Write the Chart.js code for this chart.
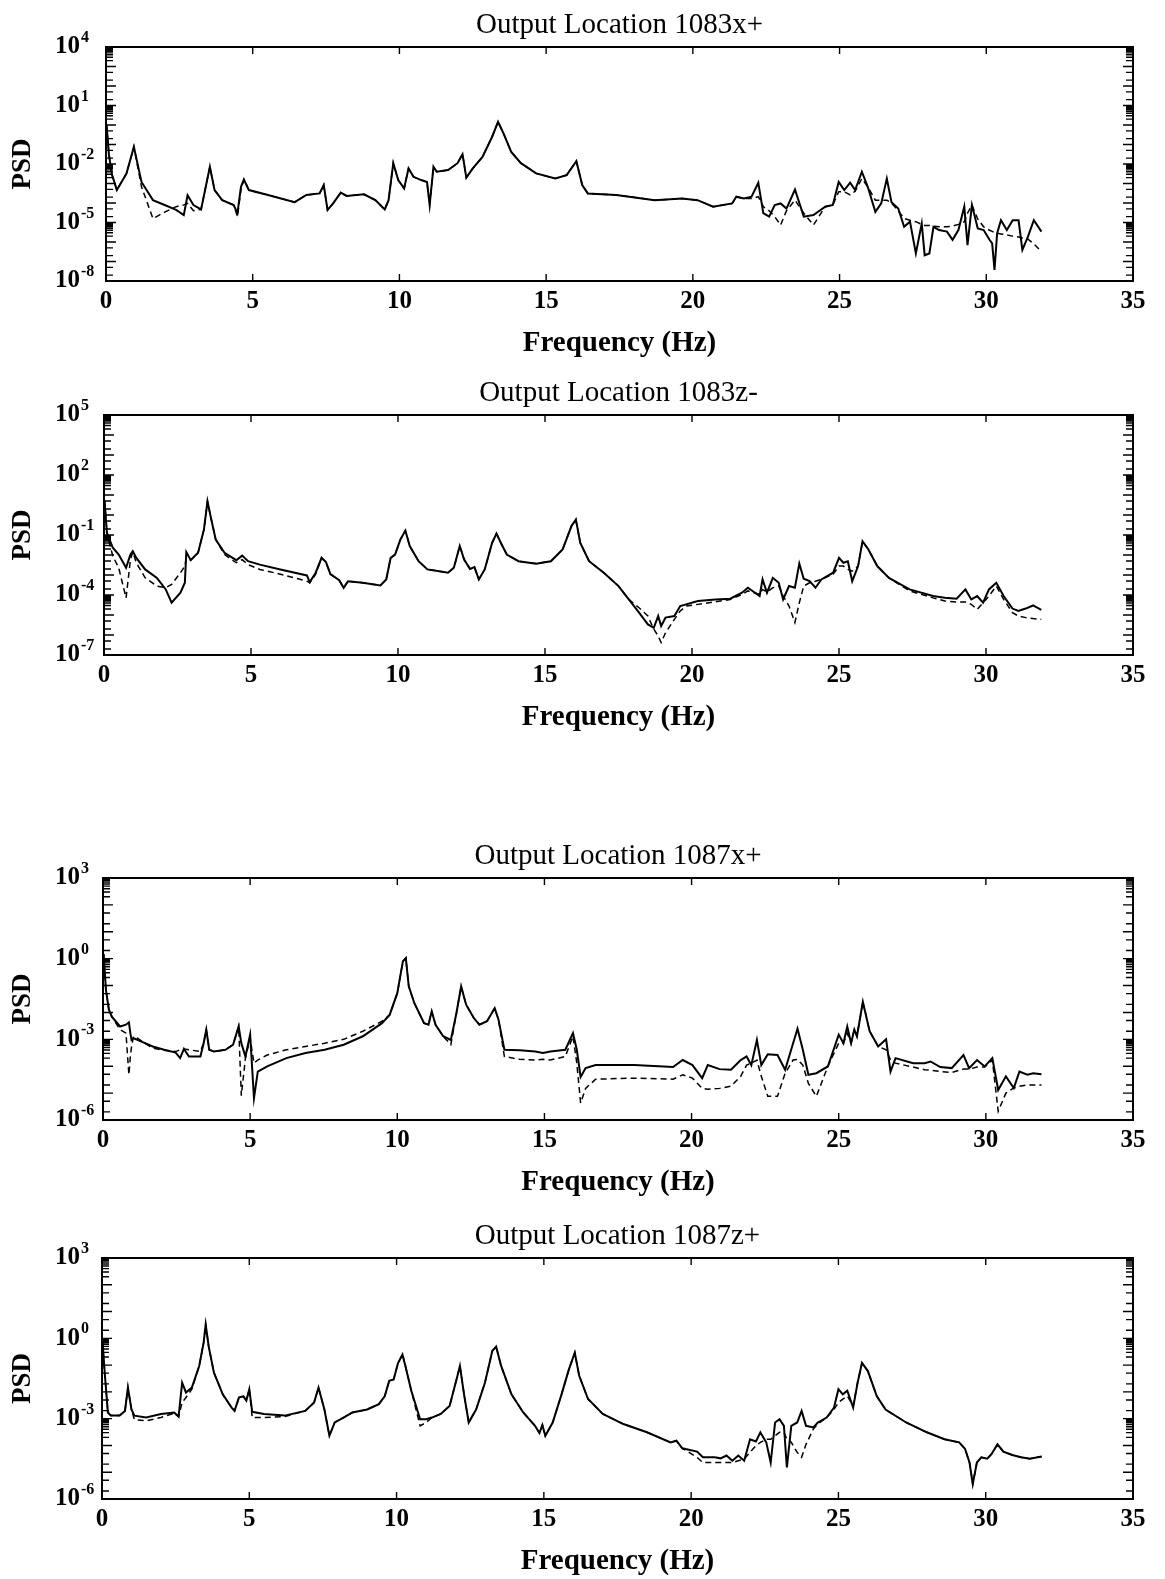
<!DOCTYPE html>
<html>
<head>
<meta charset="utf-8">
<script src="https://cdn.jsdelivr.net/npm/chart.js@4.4.1/dist/chart.umd.min.js"></script>
<style>
  html, body { margin: 0; padding: 0; background: #fff; }
  #page { position: relative; width: 1165px; height: 1579px; overflow: hidden; }
  #page canvas { position: absolute; left: 0; }
</style>
</head>
<body>
<div id="page">
  <canvas id="c1"></canvas>
  <canvas id="c2"></canvas>
  <canvas id="c3"></canvas>
  <canvas id="c4"></canvas>
</div>
<script>
// ---- data (frequency in Hz, PSD values) ----
const xTicksHz = [0, 5, 10, 15, 20, 25, 30, 35];

// Output Location 1083x+
const freq1083x = [
  0.02, 0.1, 0.2, 0.37, 0.7, 0.95, 1.21, 1.6, 2.0, 2.39,
  2.65, 2.78, 2.98, 3.24, 3.54, 3.7, 3.96, 4.35, 4.48, 4.6,
  4.7, 4.87, 5.52, 6.43, 6.83, 7.28, 7.42, 7.55, 7.74, 8.0,
  8.2, 8.79, 9.18, 9.5, 9.63, 9.79, 9.96, 10.16, 10.31, 10.48,
  10.74, 10.94, 11.03, 11.16, 11.27, 11.66, 11.98, 12.15, 12.28, 12.5,
  12.83, 13.16, 13.36, 13.55, 13.81, 14.14, 14.66, 15.31, 15.7, 16.03,
  16.23, 16.42, 17.39, 18.7, 19.63, 20.16, 20.69, 21.34, 21.48, 21.74,
  22.0, 22.23, 22.4, 22.6, 22.79, 22.99, 23.19, 23.48, 23.78, 24.11,
  24.51, 24.77, 24.97, 25.16, 25.36, 25.53, 25.76, 25.96, 26.22, 26.42,
  26.61, 26.77, 27.0, 27.2, 27.4, 27.6, 27.8, 27.9, 28.06, 28.2,
  28.39, 28.66, 28.85, 29.05, 29.25, 29.36, 29.51, 29.71, 29.91, 30.11,
  30.2, 30.28, 30.37, 30.5, 30.7, 30.9, 31.1, 31.23, 31.42, 31.62,
  31.88
];
const solid1083x = [
  1.0, 3e-2, 3e-3, 4.6e-4, 3.3e-3, 7.6e-2, 1.2e-3, 1.4e-4, 7.9e-5, 4.4e-5,
  2.4e-5, 2.5e-4, 7.9e-5, 4.7e-5, 7.2e-3, 4.6e-4, 1.4e-4, 7.9e-5, 3.0e-5, 6.8e-4,
  1.6e-3, 4.6e-4, 2.6e-4, 1.1e-4, 2.6e-4, 3.1e-4, 8.3e-4, 4.4e-5, 9.5e-5, 3.4e-4,
  2.3e-4, 2.8e-4, 1.4e-4, 4.7e-5, 1.4e-4, 1.1e-2, 1.5e-3, 5.6e-4, 5.9e-3, 2.2e-3,
  1.5e-3, 1.2e-3, 7.9e-5, 7.2e-3, 4.0e-3, 4.9e-3, 1.1e-2, 3.2e-2, 2.0e-3, 5.9e-3,
  2.3e-2, 0.25, 1.45, 0.36, 4.2e-2, 1.1e-2, 3.3e-3, 1.8e-3, 2.7e-3, 1.4e-2,
  8.3e-4, 3.1e-4, 2.6e-4, 1.4e-4, 1.7e-4, 1.4e-4, 6.5e-5, 9.5e-5, 2.1e-4, 1.7e-4,
  2.1e-4, 1.1e-3, 3.0e-5, 2.0e-5, 7.9e-5, 9.5e-5, 5.2e-5, 4.9e-4, 2.0e-5, 2.4e-5,
  6.5e-5, 7.9e-5, 1.2e-3, 4.6e-4, 1.1e-3, 4.6e-4, 4.0e-3, 6.8e-4, 3.5e-5, 9.5e-5,
  1.8e-3, 1.1e-4, 5.2e-5, 6.0e-6, 1.1e-5, 2.6e-7, 8.9e-6, 2.1e-7, 2.6e-7, 6.0e-6,
  4.1e-6, 3.4e-6, 1.3e-6, 4.1e-6, 6.5e-5, 6.9e-7, 7.9e-5, 5.0e-6, 4.1e-6, 1.3e-6,
  8.5e-7, 3.7e-8, 2.8e-6, 1.3e-5, 4.1e-6, 1.3e-5, 1.3e-5, 3.9e-7, 1.9e-6, 1.3e-5,
  3.4e-6
];
const dashed1083x = [
  1.0, 3e-2, 3e-3, 4.6e-4, 3.3e-3, 7.6e-2, 6.8e-4, 1.6e-5, 3.4e-5, 6.5e-5,
  8.0e-5, 9.5e-5, 4.0e-5, 4.7e-5, 7.2e-3, 4.6e-4, 1.4e-4, 7.9e-5, 2.0e-5, 5.0e-4,
  1.6e-3, 4.6e-4, 2.6e-4, 1.1e-4, 2.6e-4, 3.1e-4, 8.3e-4, 4.4e-5, 9.5e-5, 3.4e-4,
  2.3e-4, 2.8e-4, 1.4e-4, 4.7e-5, 1.4e-4, 1.1e-2, 1.5e-3, 5.6e-4, 5.9e-3, 2.2e-3,
  1.5e-3, 1.2e-3, 7.9e-5, 7.2e-3, 4.0e-3, 4.9e-3, 1.1e-2, 3.2e-2, 2.0e-3, 5.9e-3,
  2.3e-2, 0.25, 1.45, 0.36, 4.2e-2, 1.1e-2, 3.3e-3, 1.8e-3, 2.7e-3, 1.4e-2,
  8.3e-4, 3.1e-4, 2.6e-4, 1.4e-4, 1.7e-4, 1.4e-4, 6.5e-5, 9.5e-5, 2.1e-4, 1.7e-4,
  1.7e-4, 2.1e-4, 6.5e-5, 4.0e-5, 2.0e-5, 7.4e-6, 4.0e-5, 1.4e-4, 3.0e-5, 7.4e-6,
  6.5e-5, 7.9e-5, 3.8e-4, 3.8e-4, 2.6e-4, 4.0e-4, 1.8e-3, 6.8e-4, 1.4e-4, 1.4e-4,
  1.4e-4, 1.0e-4, 4.0e-5, 1.6e-5, 1.3e-5, 1.1e-5, 8.0e-6, 7.0e-6, 7.0e-6, 6.5e-6,
  6.0e-6, 6.0e-6, 6.5e-6, 8.0e-6, 1.1e-5, 3.0e-5, 7.9e-5, 1.5e-5, 6.0e-6, 4.0e-6,
  3.5e-6, 3.0e-6, 2.8e-6, 2.6e-6, 2.3e-6, 2.0e-6, 1.8e-6, 1.6e-6, 1.4e-6, 8.0e-7,
  3.2e-7
];
const yTicks1083x = [1e-8, 1e-5, 1e-2, 1e1, 1e4];
const yExp1083x = ['-8', '-5', '-2', '1', '4'];

// Output Location 1083z-
const freq1083z = [
  0.02, 0.1, 0.3, 0.5, 0.75, 0.9, 0.98, 1.1, 1.4, 1.8,
  2.1, 2.3, 2.6, 2.75, 2.8, 2.95, 3.2, 3.4, 3.52, 3.65,
  3.8, 4.1, 4.5, 4.7, 4.9, 5.3, 6.0, 6.9, 7.0, 7.2,
  7.4, 7.55, 7.7, 8.0, 8.15, 8.3, 8.8, 9.4, 9.6, 9.75,
  9.9, 10.08, 10.25, 10.4, 10.7, 11.0, 11.4, 11.7, 11.9, 12.1,
  12.25, 12.45, 12.6, 12.75, 12.95, 13.2, 13.35, 13.5, 13.7, 14.1,
  14.7, 15.2, 15.6, 15.9, 16.05, 16.2, 16.5, 17.0, 17.5, 17.85,
  18.2, 18.5, 18.7, 18.85, 18.95, 19.1, 19.4, 19.6, 19.8, 20.2,
  20.8, 21.3, 21.7, 21.9, 22.3, 22.4, 22.55, 22.75, 22.95, 23.1,
  23.3, 23.5, 23.65, 23.8, 24.0, 24.2, 24.4, 24.8, 25.0, 25.15,
  25.3, 25.45, 25.65, 25.8, 26.0, 26.3, 26.7, 27.4, 28.2, 28.6,
  29.0, 29.3, 29.5, 29.7, 29.9, 30.1, 30.35, 30.6, 30.9, 31.1,
  31.35, 31.6, 31.88
];
const solid1083z = [
  5, 0.126, 2.3e-2, 1.05e-2, 2.3e-3, 1.05e-2, 1.55e-2, 7.2e-3, 1.9e-3, 7.2e-4,
  1.9e-4, 4.1e-5, 1.3e-4, 4.1e-4, 1.4e-2, 5.5e-3, 1.3e-2, 0.19, 4.8, 0.59,
  5.9e-2, 1.3e-2, 5.5e-3, 9.3e-3, 4.9e-3, 3.3e-3, 1.9e-3, 9.5e-4, 4.4e-4, 1.3e-3,
  7.2e-3, 4.4e-3, 1.1e-3, 5.5e-4, 2.3e-4, 4.9e-4, 4.1e-4, 3.0e-4, 6.0e-4, 7.2e-3,
  1.05e-2, 5.9e-2, 0.166, 2.8e-2, 4.9e-3, 1.9e-3, 1.55e-3, 1.3e-3, 2.3e-3, 2.8e-2,
  5.9e-3, 2.0e-3, 2.5e-3, 6.0e-4, 1.9e-3, 4.0e-2, 0.117, 4.0e-2, 1.05e-2, 4.9e-3,
  3.7e-3, 4.9e-3, 1.9e-2, 0.28, 0.59, 4.0e-2, 4.9e-3, 1.3e-3, 2.8e-4, 6.0e-5,
  1.3e-5, 3.4e-6, 2.3e-6, 8.9e-6, 2.8e-6, 7.4e-6, 8.9e-6, 2.8e-5, 3.4e-5, 5.0e-5,
  6.0e-5, 6.5e-5, 1.3e-4, 2.3e-4, 8.9e-5, 6.0e-4, 1.3e-4, 7.2e-4, 4.1e-4, 6.0e-5,
  2.8e-4, 2.3e-4, 3.7e-3, 6.5e-4, 4.9e-4, 2.3e-4, 6.0e-4, 1.3e-3, 7.2e-3, 4.1e-3,
  4.9e-3, 4.9e-4, 2.8e-3, 4.9e-2, 1.9e-2, 2.8e-3, 7.2e-4, 1.9e-4, 8.9e-5, 7.2e-5,
  6.5e-5, 1.9e-4, 6.0e-5, 8.9e-5, 4.1e-5, 1.9e-4, 4.1e-4, 8.9e-5, 2.1e-5, 1.6e-5,
  2.1e-5, 3.0e-5, 1.8e-5
];
const dashed1083z = [
  5, 0.126, 8.7e-3, 2.3e-3, 7.2e-5, 5.9e-3, 1.4e-2, 4.1e-3, 7.2e-4, 2.8e-4,
  2.3e-4, 3.4e-4, 1.3e-3, 2.8e-3, 7.2e-3, 5.5e-3, 1.3e-2, 0.19, 4.8, 0.59,
  5.9e-2, 1.05e-2, 4.1e-3, 5.9e-3, 3.3e-3, 1.9e-3, 1.1e-3, 4.9e-4, 4.1e-4, 1.1e-3,
  7.2e-3, 4.4e-3, 1.1e-3, 5.5e-4, 2.3e-4, 4.9e-4, 4.1e-4, 3.0e-4, 6.0e-4, 7.2e-3,
  1.05e-2, 5.9e-2, 0.166, 2.8e-2, 4.9e-3, 1.9e-3, 1.55e-3, 1.3e-3, 2.3e-3, 2.8e-2,
  5.9e-3, 2.0e-3, 2.5e-3, 6.0e-4, 1.9e-3, 4.0e-2, 0.117, 4.0e-2, 1.05e-2, 4.9e-3,
  3.7e-3, 4.9e-3, 1.9e-2, 0.28, 0.59, 4.0e-2, 4.9e-3, 1.3e-3, 2.8e-4, 6.0e-5,
  2.3e-5, 8.9e-6, 1.95e-6, 8.9e-7, 4.2e-7, 1.3e-6, 6.0e-6, 1.6e-5, 2.8e-5, 3.4e-5,
  4.6e-5, 6.0e-5, 1.07e-4, 1.6e-4, 1.07e-4, 1.9e-4, 1.4e-4, 2.3e-4, 2.8e-4, 8.9e-5,
  2.8e-5, 4.2e-6, 4.1e-5, 2.8e-4, 4.1e-4, 4.9e-4, 6.0e-4, 1.1e-3, 2.8e-3, 2.8e-3,
  1.9e-3, 1.55e-3, 2.8e-3, 4.9e-2, 1.9e-2, 2.8e-3, 7.2e-4, 1.6e-4, 7.2e-5, 5.0e-5,
  4.5e-5, 4.5e-5, 3.4e-5, 1.9e-5, 4.1e-5, 8.9e-5, 2.8e-4, 6.0e-5, 1.3e-5, 8.9e-6,
  7.4e-6, 6.6e-6, 6.0e-6
];
const yTicks1083z = [1e-7, 1e-4, 1e-1, 1e2, 1e5];
const yExp1083z = ['-7', '-4', '-1', '2', '5'];

// Output Location 1087x+
const freq1087x = [
  0.02, 0.1, 0.2, 0.3, 0.58, 0.78, 0.88, 0.93, 0.97, 1.04,
  1.17, 1.69, 2.08, 2.47, 2.62, 2.75, 2.92, 3.31, 3.42, 3.51,
  3.61, 3.77, 4.16, 4.42, 4.61, 4.7, 4.84, 5.0, 5.13, 5.26,
  5.58, 6.23, 6.88, 7.53, 8.18, 8.83, 9.48, 9.74, 10.0, 10.19,
  10.29, 10.39, 10.58, 10.91, 11.06, 11.17, 11.3, 11.56, 11.82, 12.01,
  12.17, 12.34, 12.6, 12.79, 13.05, 13.31, 13.44, 13.64, 14.16, 14.69,
  14.95, 15.2, 15.71, 15.97, 16.1, 16.23, 16.4, 16.74, 18.05, 19.37,
  19.7, 20.03, 20.36, 20.55, 20.95, 21.34, 21.67, 21.87, 22.03, 22.22,
  22.37, 22.59, 22.92, 23.18, 23.45, 23.6, 23.78, 23.97, 24.24, 24.63,
  25.0, 25.16, 25.29, 25.42, 25.53, 25.62, 25.82, 26.05, 26.34, 26.61,
  26.76, 26.93, 27.53, 27.92, 28.12, 28.45, 28.84, 29.24, 29.43, 29.7,
  29.96, 30.22, 30.42, 30.68, 30.95, 31.14, 31.41, 31.61, 31.89
];
const solid1087x = [
  1.5, 6.9e-2, 1.26e-2, 7.0e-3, 3.0e-3, 3.5e-3, 4.3e-3, 1.7e-3, 9.5e-4, 1.1e-3,
  9.5e-4, 5.4e-4, 4.1e-4, 3.2e-4, 2.0e-4, 4.4e-4, 2.3e-4, 2.3e-4, 7.2e-4, 2.3e-3,
  4.1e-4, 3.5e-4, 4.1e-4, 6.3e-4, 3.0e-3, 7.2e-4, 2.3e-4, 1.5e-3, 6.5e-6, 6.3e-5,
  9.8e-5, 2.0e-4, 3.1e-4, 4.1e-4, 6.3e-4, 1.3e-3, 4.0e-3, 8.1e-3, 5.2e-2, 0.79,
  1.05, 9.3e-2, 2.2e-2, 4.0e-3, 3.5e-3, 1.1e-2, 3.5e-3, 1.3e-3, 9.5e-4, 9.5e-3,
  9.3e-2, 1.95e-2, 6.2e-3, 3.5e-3, 4.7e-3, 1.45e-2, 5.4e-3, 4.1e-4, 3.9e-4, 3.5e-4,
  3.1e-4, 3.5e-4, 4.1e-4, 1.7e-3, 4.1e-4, 4.0e-5, 8.5e-5, 1.1e-4, 1.1e-4, 9.3e-5,
  1.7e-4, 1.1e-4, 3.6e-5, 1.1e-4, 7.8e-5, 7.4e-5, 1.7e-4, 2.3e-4, 1.1e-4, 9.5e-4,
  1.1e-4, 2.8e-4, 2.6e-4, 7.4e-5, 7.2e-4, 2.5e-3, 4.1e-4, 4.8e-5, 5.5e-5, 9.8e-5,
  1.5e-3, 7.2e-4, 3.0e-3, 7.2e-4, 2.3e-3, 1.3e-3, 2.5e-2, 2.0e-3, 5.4e-4, 1.0e-3,
  6.3e-5, 2.0e-4, 1.3e-4, 1.3e-4, 1.5e-4, 9.3e-5, 8.5e-5, 2.6e-4, 8.5e-5, 1.7e-4,
  9.8e-5, 2.0e-4, 1.3e-5, 4.2e-5, 1.55e-5, 6.3e-5, 4.8e-5, 5.5e-5, 5.0e-5
];
const dashed1087x = [
  1.5, 6.9e-2, 1.26e-2, 7.0e-3, 2.3e-3, 1.7e-3, 4.8e-5, 2.3e-4, 5.4e-4, 1.3e-3,
  1.1e-3, 4.7e-4, 3.9e-4, 3.5e-4, 4.1e-4, 4.4e-4, 4.1e-4, 3.5e-4, 7.2e-4, 2.3e-3,
  4.1e-4, 3.5e-4, 4.1e-4, 6.3e-4, 3.0e-3, 8.0e-6, 2.0e-4, 1.1e-3, 1.3e-4, 1.7e-4,
  2.6e-4, 4.1e-4, 5.4e-4, 7.2e-4, 1.0e-3, 2.0e-3, 4.7e-3, 8.1e-3, 5.2e-2, 0.79,
  1.05, 9.3e-2, 2.2e-2, 4.0e-3, 3.5e-3, 1.1e-2, 3.5e-3, 1.3e-3, 6.3e-4, 9.5e-3,
  9.3e-2, 1.95e-2, 6.2e-3, 3.5e-3, 4.7e-3, 1.45e-2, 5.4e-3, 2.3e-4, 1.8e-4, 1.7e-4,
  1.8e-4, 1.7e-4, 2.3e-4, 1.3e-3, 1.3e-4, 4.3e-6, 1.5e-5, 3.3e-5, 3.6e-5, 3.3e-5,
  4.8e-5, 3.6e-5, 1.5e-5, 1.4e-5, 1.5e-5, 1.8e-5, 4.2e-5, 1.1e-4, 1.3e-4, 1.7e-4,
  4.2e-5, 7.6e-6, 7.6e-6, 5.5e-5, 1.7e-4, 1.8e-4, 1.1e-4, 2.3e-5, 7.6e-6, 9.8e-5,
  7.2e-4, 7.2e-4, 1.7e-3, 7.2e-4, 2.3e-3, 1.3e-3, 2.5e-2, 2.0e-3, 5.4e-4, 4.1e-4,
  1.7e-4, 1.3e-4, 9.3e-5, 7.4e-5, 7.2e-5, 6.3e-5, 5.9e-5, 7.8e-5, 7.8e-5, 9.3e-5,
  9.3e-5, 1.7e-4, 2.1e-6, 1.0e-5, 1.55e-5, 1.8e-5, 2.0e-5, 2.0e-5, 2.0e-5
];
const yTicks1087x = [1e-6, 1e-3, 1e0, 1e3];
const yExp1087x = ['-6', '-3', '0', '3'];

// Output Location 1087z+
const freq1087z = [
  0.02, 0.1, 0.2, 0.3, 0.6, 0.78, 0.88, 1.0, 1.1, 1.5,
  2.0, 2.45, 2.6, 2.72, 2.85, 3.05, 3.3, 3.45, 3.52, 3.62,
  3.8, 4.1, 4.4, 4.5, 4.65, 4.8, 4.9, 5.0, 5.1, 5.5,
  6.2, 6.9, 7.2, 7.35, 7.55, 7.72, 7.9, 8.2, 8.5, 9.0,
  9.4, 9.6, 9.75, 9.9, 10.05, 10.2, 10.3, 10.5, 10.8, 11.0,
  11.2, 11.5, 11.8, 12.05, 12.15, 12.3, 12.45, 12.7, 13.0, 13.25,
  13.38, 13.55, 13.9, 14.3, 14.7, 14.85, 14.95, 15.05, 15.3, 15.6,
  15.85, 16.05, 16.2, 16.5, 17.0, 17.7, 18.5, 19.3, 19.5, 19.7,
  20.2, 20.4, 20.8, 21.0, 21.2, 21.4, 21.6, 21.8, 22.0, 22.2,
  22.35, 22.55, 22.7, 22.85, 23.0, 23.15, 23.25, 23.4, 23.6, 23.75,
  23.9, 24.15, 24.3, 24.6, 24.85, 25.0, 25.15, 25.3, 25.5, 25.65,
  25.8, 26.0, 26.3, 26.6, 27.3, 28.0, 28.6, 29.1, 29.3, 29.45,
  29.56, 29.7, 29.85, 30.05, 30.2, 30.4, 30.6, 30.9, 31.2, 31.5,
  31.9
];
const solid1087z = [
  0.69, 4.0e-2, 1.7e-3, 1.3e-3, 1.3e-3, 1.95e-3, 1.45e-2, 2.2e-3, 1.3e-3, 1.1e-3,
  1.5e-3, 1.7e-3, 1.2e-3, 2.2e-2, 9.5e-3, 1.45e-2, 9.3e-2, 0.69, 3.3, 0.51,
  5.2e-2, 8.1e-3, 2.6e-3, 1.95e-3, 6.2e-3, 6.8e-3, 4.7e-3, 1.26e-2, 1.8e-3, 1.5e-3,
  1.3e-3, 1.95e-3, 4.0e-3, 1.45e-2, 2.2e-3, 2.3e-4, 7.2e-4, 1.1e-3, 1.7e-3, 2.2e-3,
  3.5e-3, 7.0e-3, 2.6e-2, 2.9e-2, 0.12, 0.25, 9.3e-2, 1.1e-2, 9.5e-4, 9.5e-4,
  1.1e-3, 1.5e-3, 3.0e-3, 3.4e-2, 9.3e-2, 7.0e-3, 7.2e-4, 2.2e-3, 2.2e-2, 0.34,
  0.49, 9.3e-2, 8.1e-3, 1.7e-3, 5.4e-4, 2.9e-4, 5.8e-4, 2.3e-4, 7.2e-4, 8.1e-3,
  6.9e-2, 0.29, 4.0e-2, 5.4e-3, 1.5e-3, 6.3e-4, 3.1e-4, 1.3e-4, 1.5e-4, 7.8e-5,
  5.9e-5, 3.6e-5, 3.6e-5, 3.3e-5, 4.2e-5, 2.7e-5, 4.2e-5, 2.7e-5, 1.7e-4, 1.4e-4,
  3.1e-4, 1.3e-4, 2.3e-5, 7.2e-4, 9.5e-4, 5.4e-4, 1.5e-5, 5.4e-4, 7.2e-4, 1.95e-3,
  5.4e-4, 4.7e-4, 7.2e-4, 1.1e-3, 2.6e-3, 1.26e-2, 8.1e-3, 1.1e-2, 2.6e-3, 2.2e-2,
  0.12, 6.0e-2, 7.0e-3, 2.2e-3, 7.2e-4, 3.1e-4, 1.7e-4, 1.3e-4, 7.4e-5, 2.3e-5,
  3.6e-6, 2.3e-5, 3.6e-5, 3.2e-5, 4.8e-5, 1.1e-4, 5.9e-5, 4.4e-5, 3.6e-5, 3.2e-5,
  3.9e-5
];
const dashed1087z = [
  0.69, 4.0e-2, 1.7e-3, 1.3e-3, 1.3e-3, 1.95e-3, 1.45e-2, 2.2e-3, 9.1e-4, 8.3e-4,
  1.1e-3, 1.6e-3, 1.2e-3, 4.0e-3, 6.2e-3, 1.26e-2, 9.3e-2, 0.69, 3.3, 0.51,
  5.2e-2, 8.1e-3, 2.6e-3, 1.95e-3, 6.2e-3, 6.8e-3, 4.7e-3, 1.26e-2, 1.1e-3, 1.1e-3,
  1.2e-3, 1.95e-3, 4.0e-3, 1.45e-2, 2.2e-3, 2.3e-4, 7.2e-4, 1.1e-3, 1.7e-3, 2.2e-3,
  3.5e-3, 7.0e-3, 2.6e-2, 2.9e-2, 0.12, 0.25, 9.3e-2, 1.1e-2, 5.4e-4, 7.2e-4,
  1.1e-3, 1.5e-3, 3.0e-3, 3.4e-2, 9.3e-2, 7.0e-3, 7.2e-4, 2.2e-3, 2.2e-2, 0.34,
  0.49, 9.3e-2, 8.1e-3, 1.7e-3, 5.4e-4, 2.9e-4, 5.8e-4, 2.3e-4, 7.2e-4, 8.1e-3,
  6.9e-2, 0.29, 4.0e-2, 5.4e-3, 1.5e-3, 6.3e-4, 3.1e-4, 1.3e-4, 1.5e-4, 7.8e-5,
  3.6e-5, 2.3e-5, 2.3e-5, 2.3e-5, 2.3e-5, 2.3e-5, 2.7e-5, 3.1e-5, 5.5e-5, 9.8e-5,
  1.3e-4, 1.7e-4, 1.7e-4, 2.3e-4, 3.1e-4, 3.1e-4, 1.7e-4, 1.3e-4, 5.5e-5, 3.6e-5,
  1.1e-4, 4.1e-4, 6.3e-4, 1.1e-3, 2.2e-3, 4.0e-3, 5.4e-3, 7.0e-3, 3.0e-3, 2.2e-2,
  0.12, 6.0e-2, 7.0e-3, 2.2e-3, 7.2e-4, 3.1e-4, 1.7e-4, 1.3e-4, 7.4e-5, 2.3e-5,
  3.6e-6, 2.3e-5, 3.6e-5, 3.2e-5, 4.8e-5, 1.1e-4, 5.9e-5, 4.4e-5, 3.6e-5, 3.2e-5,
  3.9e-5
];
const yTicks1087z = [1e-6, 1e-3, 1e0, 1e3];
const yExp1087z = ['-6', '-3', '0', '3'];

// ---- layout ----
const SERIF = "'Liberation Serif', 'Times New Roman', 'DejaVu Serif', serif";
const TITLE_H = 42;   // title line + padding above the plot box
const XAXIS_H = 80;   // tick labels + "Frequency (Hz)" below the plot box
const LABEL_X = 55;   // left edge of the y tick labels

const panels = [
  { canvas: 'c1', title: 'Output Location 1083x+', top: 47, bottom: 281, left: 106, right: 1133,
    freq: freq1083x, solid: solid1083x, dashed: dashed1083x, yTicks: yTicks1083x, yExp: yExp1083x },
  { canvas: 'c2', title: 'Output Location 1083z-', top: 415, bottom: 655, left: 104, right: 1133,
    freq: freq1083z, solid: solid1083z, dashed: dashed1083z, yTicks: yTicks1083z, yExp: yExp1083z },
  { canvas: 'c3', title: 'Output Location 1087x+', top: 878, bottom: 1120, left: 103, right: 1133,
    freq: freq1087x, solid: solid1087x, dashed: dashed1087x, yTicks: yTicks1087x, yExp: yExp1087x },
  { canvas: 'c4', title: 'Output Location 1087z+', top: 1258, bottom: 1499, left: 102, right: 1133,
    freq: freq1087z, solid: solid1087z, dashed: dashed1087z, yTicks: yTicks1087z, yExp: yExp1087z }
];

// box, inward ticks, "10^n" labels and the PSD label, placed through the chart's scales
const frameTicks = {
  id: 'frameTicks',
  afterDatasetsDraw(chart) {
    const { ctx, chartArea: a, scales: { x, y } } = chart;
    const p = chart.options.plugins.frameTicks;
    ctx.save();
    ctx.strokeStyle = '#000';
    ctx.lineWidth = 2;
    ctx.strokeRect(a.left, a.top, a.right - a.left, a.bottom - a.top);

    ctx.lineWidth = 1.4;
    ctx.beginPath();
    xTicksHz.forEach(v => {
      if (v <= x.min || v >= x.max) return;
      const px = x.getPixelForValue(v);
      ctx.moveTo(px, a.bottom); ctx.lineTo(px, a.bottom - 7);
      ctx.moveTo(px, a.top); ctx.lineTo(px, a.top + 7);
    });
    const yTick = (py, len) => {
      ctx.moveTo(a.left, py); ctx.lineTo(a.left + len, py);
      ctx.moveTo(a.right, py); ctx.lineTo(a.right - len, py);
    };
    const lo = Math.round(Math.log10(y.min));
    const hi = Math.round(Math.log10(y.max));
    for (let e = lo; e <= hi; e++) {
      yTick(y.getPixelForValue(Math.pow(10, e)), 10);
      if (e === hi) continue;
      const comb = (e + 1 - lo) % 3 === 0;
      for (let k = 2; k <= 9; k++) {
        if (!comb && k !== 2 && k !== 5) continue;
        yTick(y.getPixelForValue(k * Math.pow(10, e)), 7);
      }
    }
    ctx.stroke();

    // y tick labels: "10" with a raised exponent
    ctx.fillStyle = '#000';
    ctx.textAlign = 'left';
    ctx.textBaseline = 'middle';
    p.ticks.forEach((v, i) => {
      const py = y.getPixelForValue(v);
      ctx.font = 'bold 25px ' + SERIF;
      ctx.fillText('10', LABEL_X, py);
      const w = ctx.measureText('10').width;
      ctx.font = 'bold 16px ' + SERIF;
      ctx.fillText(p.exps[i], LABEL_X + w + 1, py - 9);
    });

    ctx.font = 'bold 27px ' + SERIF;
    ctx.textAlign = 'center';
    ctx.translate(23, (a.top + a.bottom) / 2);
    ctx.rotate(-Math.PI / 2);
    ctx.fillText('PSD', 0, 0);
    ctx.restore();
  }
};

function makePanel(p) {
  const canvas = document.getElementById(p.canvas);
  canvas.width = 1165;
  canvas.height = TITLE_H + (p.bottom - p.top) + XAXIS_H;
  canvas.style.top = (p.top - TITLE_H) + 'px';

  new Chart(canvas, {
    type: 'line',
    data: {
      datasets: [
        {
          data: p.freq.map((f, i) => ({ x: f, y: p.dashed[i] })),
          borderColor: '#000', borderWidth: 1.5, borderDash: [6, 4],
          pointRadius: 0, tension: 0
        },
        {
          data: p.freq.map((f, i) => ({ x: f, y: p.solid[i] })),
          borderColor: '#000', borderWidth: 2,
          pointRadius: 0, tension: 0
        }
      ]
    },
    options: {
      responsive: false,
      animation: false,
      events: [],
      layout: { padding: { left: LABEL_X, right: 1165 - p.right, top: 0, bottom: 0 } },
      plugins: {
        legend: { display: false },
        tooltip: { enabled: false },
        frameTicks: { ticks: p.yTicks, exps: p.yExp },
        title: {
          display: true,
          text: p.title,
          fullSize: false,
          color: '#000',
          font: { family: SERIF, size: 29, weight: 'normal', lineHeight: '32px' },
          padding: { top: 4, bottom: 6 }
        }
      },
      scales: {
        x: {
          type: 'linear',
          min: 0,
          max: 35,
          grid: { display: false, drawTicks: false },
          border: { display: false },
          afterBuildTicks: s => { s.ticks = xTicksHz.map(v => ({ value: v })); },
          afterFit: s => { s.height = XAXIS_H; },
          ticks: {
            color: '#000',
            font: { family: SERIF, size: 25, weight: 'bold', lineHeight: 1.2 },
            padding: 6,
            maxRotation: 0,
            autoSkip: false
          },
          title: {
            display: true,
            text: 'Frequency (Hz)',
            color: '#000',
            font: { family: SERIF, size: 29, weight: 'bold', lineHeight: 1.2 },
            padding: 0
          }
        },
        y: {
          type: 'logarithmic',
          min: p.yTicks[0],
          max: p.yTicks[p.yTicks.length - 1],
          grid: { display: false, drawTicks: false },
          border: { display: false },
          afterBuildTicks: s => { s.ticks = p.yTicks.map(v => ({ value: v })); },
          afterFit: s => { s.width = p.left - LABEL_X; },
          ticks: { display: false }
        }
      }
    },
    plugins: [frameTicks]
  });
}

panels.forEach(makePanel);
</script>
</body>
</html>
